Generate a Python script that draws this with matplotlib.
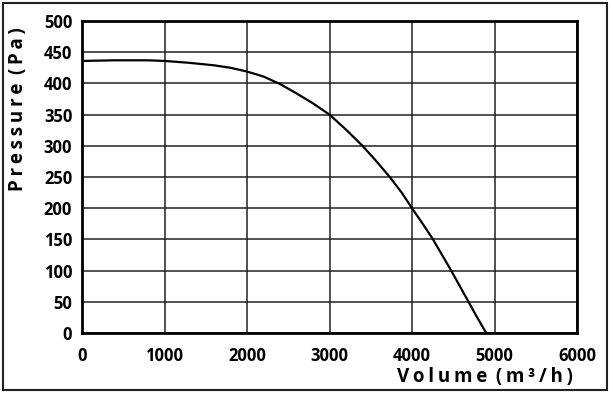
import matplotlib.pyplot as plt
from matplotlib.patches import Rectangle

# fan curve
volume = [0, 400, 800, 1000, 1300, 1600, 1800, 2000, 2200, 2400, 2600, 2800, 3000,
          3200, 3400, 3570, 3730, 3875, 4000, 4140, 4250, 4365, 4475, 4580, 4685, 4790, 4900]
pressure = [436, 437, 437, 436, 433, 429, 425, 419, 411, 399, 384, 368, 350,
            326, 300, 275, 250, 225, 200, 173, 151, 125, 100, 75, 50, 25, 0]

x_ticks = [0, 1000, 2000, 3000, 4000, 5000, 6000]
y_ticks = [0, 50, 100, 150, 200, 250, 300, 350, 400, 450, 500]

plt.rcParams['font.family'] = ['Open Sans', 'DejaVu Sans']


def spaced(txt):
    # letter-spaced label: thin space between letters, wider gap between words
    return ' \u2009'.join('\u2009'.join(w) for w in txt.split(' '))


fig = plt.figure(figsize=(6.13, 3.96), dpi=100)
ax = fig.add_axes([82/613, 1-333/396, (577-82)/613, (333-21)/396])

ax.plot(volume, pressure, color='black', lw=1.6, zorder=3, solid_joinstyle='round')

ax.set_xlim(0, 6000)
ax.set_ylim(0, 500)
ax.set_xticks(x_ticks)
ax.set_yticks(y_ticks)
ax.set_xticklabels([str(v) for v in x_ticks], fontsize=12, fontweight='bold')
ax.set_yticklabels([str(v) for v in y_ticks], fontsize=12, fontweight='bold')
ax.tick_params(length=0)
ax.tick_params(axis='x', pad=10)
ax.tick_params(axis='y', pad=7)
ax.grid(True, color='#222222', lw=1.1)
for s in ax.spines.values():
    s.set_linewidth(2)
    s.set_color('black')

fig.text(573/613, 1-377/396, spaced('Volume (m³/h)'), ha='right', va='center',
         fontsize=13.5, fontweight='bold')
fig.text(18/613, 1-109/396, spaced('Pressure (Pa)'), ha='center', va='center',
         rotation=90, fontsize=13.5, fontweight='bold')

fig.patches.append(Rectangle((3/613, 6/396), 604/613, 387/396, transform=fig.transFigure,
                             fill=False, edgecolor='#222222', lw=1.5))

fig.savefig('out.png', dpi=100)
